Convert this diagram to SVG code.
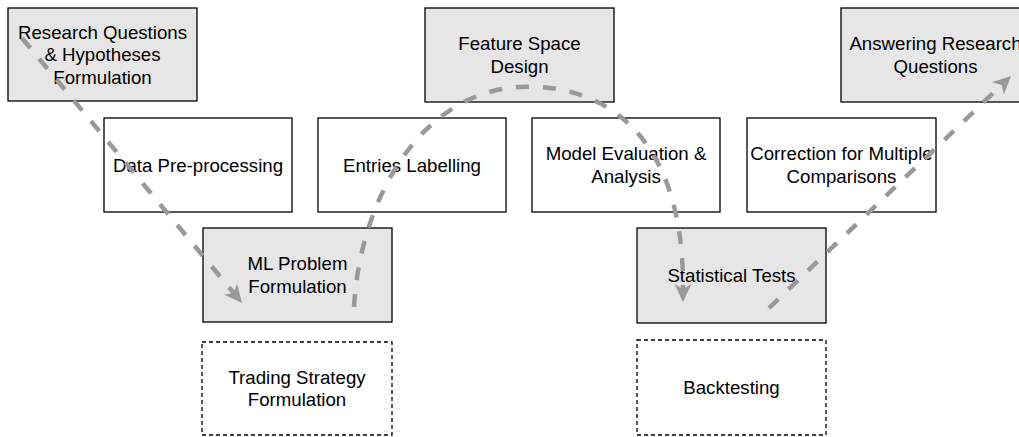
<svg xmlns="http://www.w3.org/2000/svg" width="1019" height="437" viewBox="0 0 1019 437">
<style>
.box{fill:#ffffff;stroke:#000000;stroke-width:1.3}
.gray{fill:#e6e6e6}
.dash{stroke-dasharray:4 3}
text{font-family:"Liberation Sans",Arial,sans-serif;font-size:18.67px;fill:#000000;text-anchor:middle}
.conn{fill:none;stroke:#999999;stroke-width:4.5;stroke-dasharray:13 14}
</style>
<defs>
<marker id="arr" markerUnits="userSpaceOnUse" refX="0" refY="0" markerWidth="40" markerHeight="40" viewBox="-20 -20 40 40" orient="auto" overflow="visible">
<path d="M10,0 L-8,-8.5 L-3,0 L-8,8.5 Z" fill="#999999"/>
</marker>
</defs>
<rect width="1019" height="437" fill="#ffffff"/>
<g id="research"><rect class="box gray" x="8" y="8" width="189" height="93"/><text x="102.5" y="38.5">Research Questions</text><text x="102.5" y="61">&amp; Hypotheses</text><text x="102.5" y="83.5">Formulation</text></g>
<g id="datapre"><rect class="box" x="104" y="118" width="188" height="94"/><text x="198" y="171.5">Data Pre-processing</text></g>
<g id="entries"><rect class="box" x="318" y="118" width="188" height="94"/><text x="412" y="171.5">Entries Labelling</text></g>
<g id="feature"><rect class="box gray" x="425" y="8" width="189" height="94"/><text x="519.5" y="50.25">Feature Space</text><text x="519.5" y="72.75">Design</text></g>
<g id="model"><rect class="box" x="532" y="118" width="188" height="94"/><text x="626" y="160.25">Model Evaluation &amp;</text><text x="626" y="182.75">Analysis</text></g>
<g id="correction"><rect class="box" x="747" y="118" width="189" height="94"/><text x="841.5" y="160.25">Correction for Multiple</text><text x="841.5" y="182.75">Comparisons</text></g>
<g id="answering"><rect class="box gray" x="841" y="8" width="189" height="94"/><text x="935.5" y="50.25">Answering Research</text><text x="935.5" y="72.75">Questions</text></g>
<g id="ml"><rect class="box gray" x="203" y="228" width="189" height="94"/><text x="297.5" y="270.25">ML Problem</text><text x="297.5" y="292.75">Formulation</text></g>
<g id="stat"><rect class="box gray" x="637" y="228" width="189" height="95"/><text x="731.5" y="282">Statistical Tests</text></g>
<g id="trading"><rect class="box dash" x="202" y="342" width="190" height="93"/><text x="297" y="383.75">Trading Strategy</text><text x="297" y="406.25">Formulation</text></g>
<g id="backtesting"><rect class="box dash" x="637" y="340" width="189" height="95"/><text x="731.5" y="393.5">Backtesting</text></g>
<g id="connectors">
<path class="conn" d="M22,38 L235.6,295.3" marker-end="url(#arr)"/>
<path class="conn" d="M354,307 C360,200 420,92 520,87 C600,83 685,130 683,292" marker-end="url(#arr)"/>
<path class="conn" d="M769,308 L1003.8,82.9" marker-end="url(#arr)"/>
</g>
</svg>
